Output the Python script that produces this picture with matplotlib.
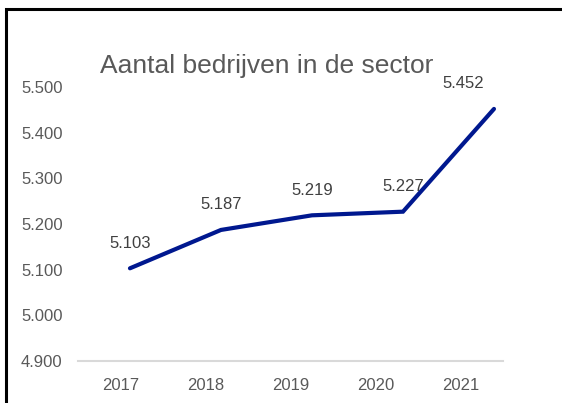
import matplotlib
matplotlib.use('Agg')
import matplotlib.pyplot as plt
from matplotlib.patches import Rectangle

plt.rcParams['font.family'] = ['Liberation Sans', 'DejaVu Sans']

# data
years = ['2017', '2018', '2019', '2020', '2021']
aantal = [5.103, 5.187, 5.219, 5.227, 5.452]
y_ticks = [4.9, 5.0, 5.1, 5.2, 5.3, 5.4, 5.5]

def nl(v):
    return f'{v:.3f}'

fig = plt.figure(figsize=(5.62, 4.03), dpi=100)
ax = fig.add_axes([78 / 562, 42 / 403, 425 / 562, 274 / 403])

x = list(range(len(years)))
ax.plot(x, aantal, color='#00188F', linewidth=3, solid_capstyle='round',
        solid_joinstyle='miter')

for i, v in enumerate(aantal):
    dx = -22 if i == len(aantal) - 1 else 0
    ax.annotate(nl(v), (i, v), xytext=(dx, 18), textcoords='offset points',
                ha='center', va='center', fontsize=12, color='#404040')

x0, x1 = -0.571, 4.099
ax.set_xlim(x0, x1)
ax.set_ylim(4.9, 5.5)
# year labels sit in the middle of five equal slots along the axis
slot = (x1 - x0) / len(years)
ax.set_xticks([x0 + (i + 0.5) * slot for i in x])
ax.set_xticklabels(years)
ax.set_yticks(y_ticks)
ax.set_yticklabels([nl(t) for t in y_ticks])
ax.tick_params(axis='both', length=0, labelsize=12, labelcolor='#595959')
ax.tick_params(axis='y', pad=11)
ax.tick_params(axis='x', pad=12)

for s in ['top', 'right', 'left']:
    ax.spines[s].set_visible(False)
ax.spines['bottom'].set_color('#D9D9D9')
ax.spines['bottom'].set_linewidth(1.5)

fig.text(267 / 562, 1 - 66 / 403, 'Aantal bedrijven in de sector', ha='center',
         va='center', fontsize=19, color='#595959')

# frame of the chart
fig.patches.append(Rectangle((6 / 562, -0.1), 1.2, 1 - 9 / 403 + 0.1,
                             transform=fig.transFigure, fill=False,
                             edgecolor='black', linewidth=2.2))

fig.savefig('out.png', dpi=100)
